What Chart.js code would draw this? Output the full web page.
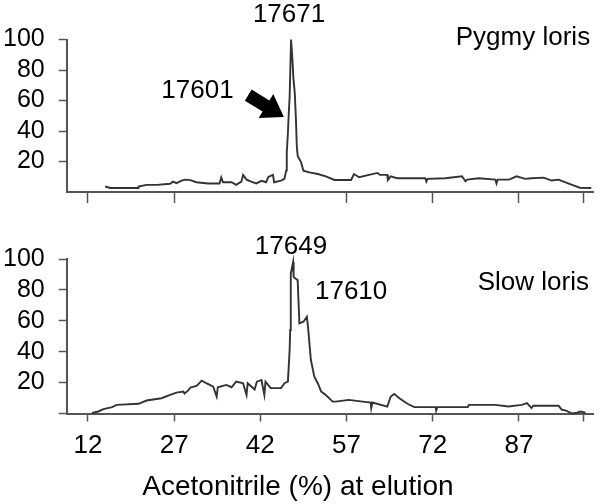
<!DOCTYPE html>
<html><head><meta charset="utf-8">
<script src="https://cdn.jsdelivr.net/npm/chart.js@4.4.1/dist/chart.umd.min.js"></script>
<style>
html,body{margin:0;padding:0;background:#fff;width:600px;height:504px;overflow:hidden}
#c1{position:absolute;left:0;top:0}
#c2{position:absolute;left:0;top:230px}
</style></head><body>
<canvas id="c1" width="600" height="230"></canvas>
<canvas id="c2" width="600" height="274"></canvas>
<script>
// ---- data ----
const xTicks = [12, 27, 42, 57, 72, 87];
const xEndTick = 98.3;
const yTicks = [0, 20, 40, 60, 80, 100];

const pygmyX = [15.0,15.9,20.8,20.8,22.2,24.0,26.3,26.8,27.4,28.3,28.9,29.8,30.9,32.9,34.9,35.2,35.5,37.0,37.8,38.7,39.0,39.6,40.4,41.3,42.2,43.0,43.4,44.2,44.4,45.6,46.2,46.5,46.6,46.8,46.95,47.1,47.2,47.35,47.6,47.75,48.0,48.2,48.35,48.5,49.1,49.5,50.5,52.0,53.4,54.9,57.8,58.3,59.2,60.9,62.4,62.8,64.1,64.2,64.7,65.8,70.7,70.9,71.1,74.2,77.1,77.7,78.0,80.0,82.9,83.1,83.3,85.3,86.6,88.1,89.2,91.3,92.7,93.9,95.0,96.5,97.6,99.6];
const pygmyY = [3.6,2.6,2.6,3.6,4.7,4.7,5.4,6.8,5.8,7.5,8.1,7.8,6.4,5.6,5.6,9.6,6.4,6.4,4.7,6.8,11.2,8.1,6.8,5.6,7.3,6.4,9.9,11.2,6.4,7.5,8.6,14,25.8,38.7,51.6,62.3,77.4,100,86,75,64.5,47.3,30,23.6,19.4,14,12.9,11.8,10.3,7.9,7.9,11.8,9.7,11.2,12.5,11.2,11.2,7.9,10.3,9.0,9.0,6.8,8.6,9.0,10.3,7.0,8.1,9.0,8.1,5.6,8.1,8.1,10.3,8.6,9.0,9.4,7.5,8.1,6.4,4.3,2.8,2.6];

const slowX = [12.7,13.8,14.7,16.2,17.0,20.8,22.2,24.8,26.3,27.4,28.6,28.8,29.4,29.9,30.9,31.8,32.6,33.8,34.4,34.6,36.1,37.0,37.8,39.0,39.6,39.8,41.0,41.4,42.2,42.7,42.9,43.8,45.6,46.2,46.8,47.1,47.2,47.3,47.7,47.8,48.5,48.8,49.5,50.1,50.3,50.8,51.4,52.0,52.6,53.4,54.6,55.1,57.4,59.8,61.2,61.3,61.5,64.1,64.7,65.3,66.2,67.6,68.8,72.5,72.6,72.8,78.1,78.3,82.9,85.2,87.5,88.4,89.2,89.5,93.9,94.5,95.1,96.3,97.1,97.7,98.6];
const slowY = [0.3,1.3,2.8,4.1,5.6,6.3,8.4,9.9,12,13.5,14.2,12.9,14.8,17,17.9,21.3,19.6,17.4,11,17,18.5,17,20.6,19.6,12,19.6,15.5,20.6,21.7,12,20.6,16.4,16.4,19.6,20.6,41,54,90.6,98,88.4,86.3,58.3,59.4,62.6,56.1,34.6,23.9,19.6,14.2,12,7.7,7.7,8.8,7.7,7.1,3.5,7.1,4.5,11,12.7,9.9,6.3,4.1,4.1,1.9,4.1,4.1,5.6,5.6,4.5,5.6,6.7,3.5,5,5,2.4,2.0,0,0.5,1.3,0.5];

const pygmyLabels = ['17671', '17601', 'Pygmy loris'];
const slowLabels = ['17649', '17610', 'Slow loris'];
const xTitle = 'Acetonitrile (%) at elution';

// ---- style ----
const FONT = '"Liberation Sans", Arial, Helvetica, sans-serif';
const AX = '#555';
const LINE = '#333';
const TXT = '#000';
Chart.defaults.font.family = FONT;

const notesPlugin = {
  id: 'notes',
  afterDraw(chart) {
    const o = chart.options.plugins.notes;
    const ctx = chart.ctx, xs = chart.scales.x, ys = chart.scales.y;
    ctx.save();
    ctx.fillStyle = TXT;
    ctx.textBaseline = 'alphabetic';
    (o.items || []).forEach(it => {
      ctx.font = it.size + 'px ' + FONT;
      ctx.textAlign = it.align || 'center';
      const px = xs.getPixelForValue(it.x);
      const py = it.py !== undefined ? it.py : ys.getPixelForValue(it.y);
      ctx.fillText(it.text, px, py);
    });
    if (o.arrow) {
      const a = o.arrow;
      const x0 = xs.getPixelForValue(a.x0), y0 = ys.getPixelForValue(a.y0);
      const x1 = xs.getPixelForValue(a.x1), y1 = ys.getPixelForValue(a.y1);
      const dx = x1 - x0, dy = y1 - y0, L = Math.hypot(dx, dy);
      const ux = dx / L, uy = dy / L, nx = -uy, ny = ux;
      const hl = 21, hw = 14, sw = 6.5;
      const bx = x1 - ux * hl, by = y1 - uy * hl;
      ctx.beginPath();
      ctx.moveTo(x0 + nx * sw, y0 + ny * sw);
      ctx.lineTo(bx + nx * sw, by + ny * sw);
      ctx.lineTo(bx + nx * hw, by + ny * hw);
      ctx.lineTo(x1, y1);
      ctx.lineTo(bx - nx * hw, by - ny * hw);
      ctx.lineTo(bx - nx * sw, by - ny * sw);
      ctx.lineTo(x0 - nx * sw, y0 - ny * sw);
      ctx.closePath();
      ctx.fillStyle = '#000';
      ctx.fill();
    }
    ctx.restore();
  }
};

function makeChart(id, xsArr, ysArr, opt) {
  return new Chart(document.getElementById(id), {
    type: 'line',
    data: {
      datasets: [{
        data: xsArr.map((x, i) => ({ x: x, y: ysArr[i] })),
        borderColor: LINE, borderWidth: 1.9, pointRadius: 0, tension: 0,
        fill: false, clip: false
      }]
    },
    options: {
      responsive: false, animation: false, events: [],
      layout: { padding: { top: opt.padTop, right: 7, left: 0, bottom: 0 } },
      plugins: {
        legend: { display: false }, tooltip: { enabled: false },
        notes: { items: opt.items, arrow: opt.arrow }
      },
      scales: {
        x: {
          type: 'linear', min: 8.3, max: 99.9,
          afterBuildTicks: s => { s.ticks = xTicks.concat([xEndTick]).map(v => ({ value: v })); },
          afterFit: s => { s.height = opt.xHeight; },
          border: { display: true, color: AX, width: 2 },
          grid: {
            drawOnChartArea: false, drawTicks: true, tickLength: opt.xTickLen, tickWidth: 1.5,
            tickColor: c => (c.tick && opt.skipTicks.includes(c.tick.value)) ? 'rgba(0,0,0,0)' : AX
          },
          ticks: {
            display: opt.showXLabels, autoSkip: false, maxRotation: 0, padding: 9,
            color: TXT, font: { size: 26 },
            callback: v => xTicks.includes(v) ? String(v) : ''
          }
        },
        y: {
          min: 0, max: 100,
          afterBuildTicks: s => { s.ticks = yTicks.map(v => ({ value: v })); },
          afterFit: s => { s.width = 66.7; },
          border: { display: true, color: AX, width: 2 },
          grid: {
            drawOnChartArea: false, drawTicks: true, tickLength: 8, tickWidth: 1.5,
            tickColor: c => (c.tick && opt.skipYTicks.includes(c.tick.value)) ? 'rgba(0,0,0,0)' : AX
          },
          ticks: {
            autoSkip: false, padding: 14, color: TXT, font: { size: 25 },
            callback: v => v === 0 ? '' : String(v)
          }
        }
      }
    },
    plugins: [notesPlugin]
  });
}

makeChart('c1', pygmyX, pygmyY, {
  padTop: 39.5, xHeight: 38, xTickLen: 11, showXLabels: false,
  skipTicks: [42], skipYTicks: [0],
  items: [
    { text: pygmyLabels[0], x: 47.0, y: 111.7, size: 26 },
    { text: pygmyLabels[1], x: 31.06, y: 61.4, size: 26 },
    { text: pygmyLabels[2], x: 99.4, y: 96.4, size: 26, align: 'right' }
  ],
  arrow: { x0: 39.9, y0: 63.5, x1: 46.1, y1: 49.2 }
});

makeChart('c2', slowX, slowY, {
  padTop: 28.7, xHeight: 90.5, xTickLen: 8, showXLabels: true,
  skipTicks: [], skipYTicks: [],
  items: [
    { text: slowLabels[0], x: 47.34, y: 103.5, size: 26 },
    { text: slowLabels[1], x: 57.8, y: 74.4, size: 26 },
    { text: slowLabels[2], x: 99.2, y: 79.8, size: 26, align: 'right' },
    { text: xTitle, x: 48.55, py: 265, size: 28 }
  ]
});
</script>
</body></html>
